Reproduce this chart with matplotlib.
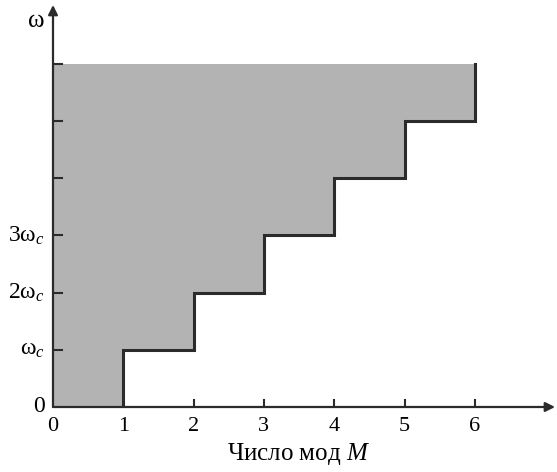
import matplotlib.pyplot as plt
import numpy as np

# Data: staircase of mode cut-offs
modes = [0, 1, 2, 3, 4, 5, 6]          # x-axis mode numbers
cutoff = [0, 1, 2, 3, 4, 5]             # step level (in units of w_c) on each interval
top = 6                                  # upper edge of shaded region
ytick_vals = [1, 2, 3, 4, 5, 6]
ytick_labels = ['ω$_c$', '2ω$_c$', '3ω$_c$', '', '', '']
xtick_labels = ['0', '1', '2', '3', '4', '5', '6']

plt.rcParams['font.family'] = ['Liberation Serif', 'DejaVu Serif']
plt.rcParams['mathtext.fontset'] = 'custom'
plt.rcParams['mathtext.rm'] = 'Liberation Serif'
plt.rcParams['mathtext.it'] = 'Liberation Serif:italic'

fig = plt.figure(figsize=(5.57, 4.72), dpi=100)
ax = fig.add_axes([53/557, 65/472, 502/557, 402/472])
ax.set_xlim(0, 7.14)
ax.set_ylim(0, 7.03)
for s in ax.spines.values():
    s.set_visible(False)
ax.set_xticks([])
ax.set_yticks([])

line_col = '#2b2b2b'

# staircase
xs = []
ys = []
for i in range(len(cutoff)):
    xs += [modes[i], modes[i + 1]]
    ys += [cutoff[i], cutoff[i]]
ax.fill_between(xs, ys, top, color='#b3b3b3', lw=0, zorder=1)
sx = xs[1:] + [modes[-1]]
sy = ys[1:] + [top]
ax.plot(sx, sy, color=line_col, lw=2.2, solid_joinstyle='miter', zorder=3)

# axes with arrows
ax.annotate('', xy=(7.14, 0), xytext=(0, 0),
            arrowprops=dict(arrowstyle='-|>', color=line_col, lw=1.6,
                            mutation_scale=14, shrinkA=0, shrinkB=0), zorder=4)
ax.annotate('', xy=(0, 7.03), xytext=(0, 0),
            arrowprops=dict(arrowstyle='-|>', color=line_col, lw=1.6,
                            mutation_scale=14, shrinkA=0, shrinkB=0), zorder=4)

# tick marks (inside)
for m in modes[2:]:
    ax.plot([m, m], [0, 0.13], color=line_col, lw=1.5, zorder=4)
for v in ytick_vals:
    ax.plot([0, 0.13], [v, v], color=line_col, lw=1.5, zorder=4)

# tick labels
for m, lab in zip(modes, xtick_labels):
    ax.text(m, -0.18, lab, ha='center', va='top', fontsize=16)
for v, lab in zip(ytick_vals, ytick_labels):
    if lab:
        ax.text(-0.12, v, lab, ha='right', va='center', fontsize=17)
ax.text(-0.12, 0, '0', ha='right', va='center', fontsize=17)
ax.text(-0.12, 6.75, 'ω', ha='right', va='center', fontsize=18)

ax.text(3.5, -0.6, r'Число мод $M$', ha='center', va='top', fontsize=18)

fig.savefig('out.png', dpi=100)
